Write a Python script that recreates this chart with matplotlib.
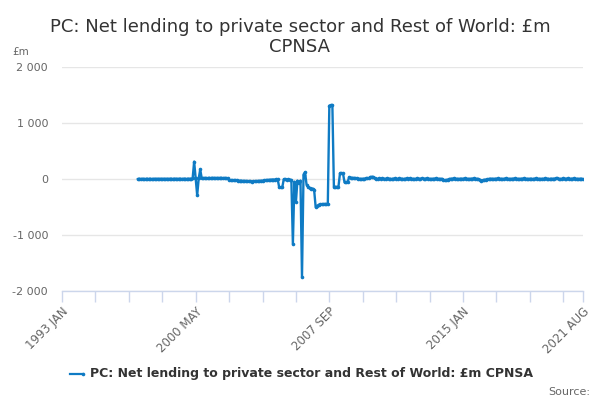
import matplotlib
matplotlib.use("Agg")
import matplotlib.pyplot as plt
from matplotlib.ticker import FuncFormatter, FixedLocator
import pandas as pd

# ---- data -------------------------------------------------------------
months = [p.strftime("%Y %b").upper() for p in pd.period_range("1993-01", "2021-08", freq="M")]
series_start = "1997 MAR"

v1997 = [0, 5, 0, 5, 0, 0, 5, 0, 5, 0]
v1998 = [0, 5, 0, 5, 0, 5, 0, 5, 0, 5, 0, 5]
v1999 = [5, 0, 5, 5, 0, 5, 5, 0, 5, 5, 0, 5]
v2000 = [5, 5, 10, 310, 10, -290, 10, 170, 10, 15, 20, 15]
v2001 = [15, 20, 15, 20, 20, 15, 20, 15, 20, 20, 15, 20]
v2002 = [15, 10, -20, -20, -25, -20, -25, -25, -30, -30, -30, -35]
v2003 = [-35, -35, -40, -40, -40, -45, -40, -40, -40, -35, -35, -30]
v2004 = [-30, -25, -20, -20, -15, -15, -10, -10, -10, -5, -5, -150]
v2005 = [-150, -150, -5, -5, -10, -5, -10, -20, -1160, -50, -410, -30]
v2006 = [-80, -30, -1750, 80, 120, -100, -140, -160, -170, -170, -200, -500]
v2007 = [-480, -460, -450, -450, -450, -445, -450, -440, 1310, 1320, 1320, -140]
v2008 = [-140, -140, -140, 100, 100, 100, -60, -60, -60, 30, 25, 20]
v2009 = [20, 15, 10, 5, 5, 0, 5, 5, 10, 10, 15, 35]
v2010 = [40, 35, 10, 5, 5, 10, 5, 10, 5, 5, 10, 5]
v2011 = [5, 0, 5, 10, 5, 5, 10, 5, 5, 0, 5, 10]
v2012 = [5, 10, 5, 5, 0, 5, 10, 5, 5, 10, 5, 5]
v2013 = [10, 5, 5, 0, 5, 5, 10, 5, 5, 0, 5, -10]
v2014 = [-25, -20, -10, 0, 5, 5, 10, 5, 5, 0, 5, 5]
v2015 = [5, 10, 5, 5, 0, 5, 5, 10, 5, 5, 0, -10]
v2016 = [-30, -25, -15, -10, -5, 0, 5, 5, 0, 5, 5, 10]
v2017 = [5, 5, 0, 5, 10, 5, 5, 0, 5, 5, 10, 5]
v2018 = [5, 0, 5, 5, 10, 5, 5, 0, 5, 5, 0, 5]
v2019 = [10, 5, 5, 0, 5, 5, 10, 5, 5, 0, 5, 5]
v2020 = [5, 10, 15, 5, 0, 5, 10, 5, 5, 10, 5, 5]
v2021 = [5, 10, 5, 5, 0, 5, 5, 0]

tick_labels = ["1993 JAN", "2000 MAY", "2007 SEP", "2015 JAN", "2021 AUG"]
y_ticks = [-2000, -1000, 0, 1000, 2000]

title = "PC: Net lending to private sector and Rest of World: £m\nCPNSA"
series_name = "PC: Net lending to private sector and Rest of World: £m CPNSA"

values = (v1997 + v1998 + v1999 + v2000 + v2001 + v2002 + v2003 + v2004 + v2005
          + v2006 + v2007 + v2008 + v2009 + v2010 + v2011 + v2012 + v2013 + v2014
          + v2015 + v2016 + v2017 + v2018 + v2019 + v2020 + v2021)
start = months.index(series_start)
xs = list(range(start, start + len(values)))

# ---- figure -----------------------------------------------------------
plt.rcParams['font.family'] = ['DejaVu Sans']
fig = plt.figure(figsize=(6, 4), dpi=100)
ax = fig.add_axes([62 / 600, 1 - 291 / 400, (583 - 62) / 600, (291 - 67) / 400])

color = "#0f7bc4"
ax.plot(xs, values, color=color, lw=1.7, marker="o", ms=2.6, mew=0,
        solid_joinstyle="round", zorder=3)

ax.set_xlim(0, len(months) - 1)
ax.set_ylim(-2000, 2000)
ax.set_yticks(y_ticks)
ax.yaxis.set_major_formatter(FuncFormatter(lambda v, p: f"{int(v):,}".replace(",", " ")))
ax.grid(axis="y", color="#e6e6e6", lw=1)
ax.set_axisbelow(True)

for s in ["top", "right", "left"]:
    ax.spines[s].set_visible(False)
ax.spines["bottom"].set_color("#ccd6eb")
ax.spines["bottom"].set_linewidth(1)

minor = list(range(0, len(months), 22)) + [len(months) - 1]
ax.xaxis.set_minor_locator(FixedLocator(minor))
ax.set_xticks([months.index(t) for t in tick_labels])
ax.set_xticklabels(tick_labels, rotation=45, ha="right", rotation_mode="anchor",
                   color="#666666", fontsize=8.5)
ax.tick_params(axis="x", which="both", length=8, color="#ccd6eb", width=1, pad=2)
ax.tick_params(axis="y", length=0, labelcolor="#666666", labelsize=8, pad=10)

fig.text(0.5, 0.955, title, ha="center", va="top", fontsize=13, color="#333333",
         linespacing=1.15)
fig.text(12 / 600, 1 - 52 / 400, "£m", ha="left", va="center", fontsize=7.5, color="#666666")

# legend
ly = 1 - 374 / 400
fig.add_artist(plt.Line2D([70 / 600, 83 / 600], [ly, ly], color=color, lw=1.6,
                          marker="o", ms=2.6, markevery=[1], mew=0))
fig.text(90 / 600, ly, series_name, ha="left", va="center", fontsize=9,
         fontweight="bold", color="#333333")
fig.text(590 / 600, 1 - 392 / 400, "Source:", ha="right", va="center", fontsize=8,
         color="#666666")

fig.savefig("out.png", dpi=100)
